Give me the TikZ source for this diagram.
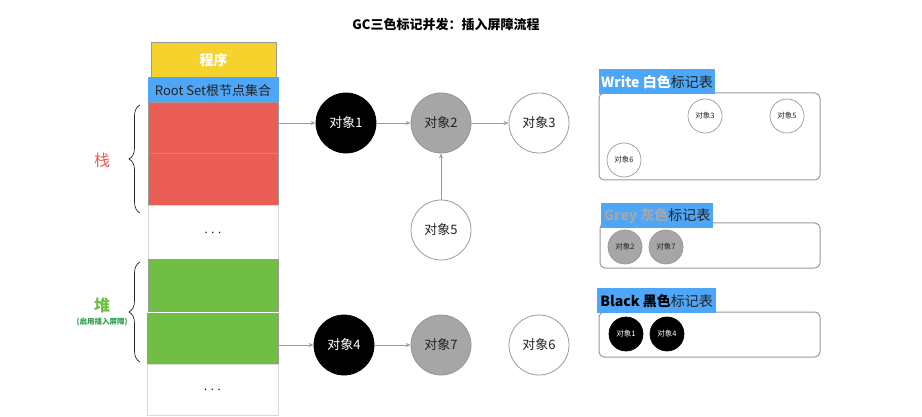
\documentclass[tikz,border=0pt]{standalone}
\usepackage{fontspec}
\setmainfont{Noto Sans CJK SC}
\usetikzlibrary{decorations.pathreplacing,arrows.meta}
\definecolor{cred}{HTML}{EA5D55}
\definecolor{cgreen}{HTML}{70BE44}
\definecolor{cyellow}{HTML}{F5D22C}
\definecolor{cblue}{HTML}{4DA6F8}
\definecolor{cgrey}{HTML}{A6A6A6}
\definecolor{cline}{HTML}{9A9A9A}
\definecolor{cdark}{HTML}{222222}
\definecolor{cgtext}{HTML}{2E9E4A}
\tikzset{
  cell/.style={draw=cline, line width=1pt, inner sep=0pt, outer sep=0pt, minimum width=130pt},
  obj/.style={circle, draw=cline, line width=0.8pt, minimum size=60pt, inner sep=0pt, font=\fontsize{13}{13}\selectfont, text=cdark},
  sobj/.style={circle, draw=cline, line width=0.7pt, minimum size=34pt, inner sep=0pt, font=\fontsize{7.5}{7.5}\selectfont, text=cdark},
  blk/.style={fill=black, draw=black, text=white},
  gry/.style={fill=cgrey, draw=cgrey!90!black},
  tbl/.style={draw=cline, line width=1pt, rounded corners=5pt},
  tlabel/.style={fill=cblue, anchor=north west, inner sep=2pt, minimum height=25pt, font=\fontsize{14}{14}\selectfont},
  conn/.style={draw=cline, line width=0.9pt, -{Stealth[length=5pt,width=4pt]}},
  mybrace/.style={decorate, decoration={brace, amplitude=11pt, aspect=0.5}, line width=0.7pt, draw=black!85},
}
\begin{document}
\begin{tikzpicture}[x=1pt, y=-1pt]
\useasboundingbox (0,0) rectangle (922,417);
\node[font=\bfseries\fontsize{13}{13}\selectfont] (title) at (446,25) {GC三色标记并发：插入屏障流程};

% column
\node[cell, fill=cyellow, minimum width=125pt, minimum height=35pt, text=white, font=\bfseries\fontsize{14}{14}\selectfont] (prog) at (213.5,60.5) {程序};
\node[cell, fill=cblue, draw=cblue, minimum height=25pt, text=cdark, font=\fontsize{13}{13}\selectfont] (root) at (213,90.5) {Root Set根节点集合};
\node[cell, fill=cred, minimum height=51pt] (r1) at (213,128.5) {};
\node[cell, fill=cred, minimum height=52pt] (r2) at (213,180) {};
\node[cell, fill=white, draw=black!15, minimum height=53pt, font=\fontsize{11}{11}\selectfont] (d1) at (213,232.5) {.\,\,.\,\,.};
\node[cell, fill=cgreen, minimum height=52pt] (g1) at (213,285) {};
\node[cell, fill=cgreen, minimum width=131pt, minimum height=51pt] (g2) at (212.5,338.5) {};
\node[cell, fill=white, draw=black!15, minimum width=131pt, minimum height=51pt, font=\fontsize{11}{11}\selectfont] (d2) at (212.5,389.5) {.\,\,.\,\,.};

% braces and labels
\coordinate (sb1) at (140,213);
\coordinate (st1) at (140,105);
\draw[mybrace] (sb1) -- (st1);
\node[text=cred, font=\fontsize{16}{16}\selectfont] (zhan) at (102,160) {栈};
\coordinate (hb1) at (140,362);
\coordinate (ht1) at (140,262);
\draw[mybrace] (hb1) -- (ht1);
\node[text=cgreen, font=\bfseries\fontsize{16}{16}\selectfont] (dui) at (102,305) {堆};
\node[text=cgtext, font=\bfseries\fontsize{7.5}{7.5}\selectfont] (duisub) at (102,322) {(启用插入屏障)};

% objects
\node[obj, blk] (o1) at (346,123) {对象1};
\node[obj, gry] (o2) at (441,123) {对象2};
\node[obj] (o3) at (539,123) {对象3};
\node[obj] (o5) at (441,230) {对象5};
\node[obj, blk] (o4) at (344,345) {对象4};
\node[obj, gry] (o7) at (441,345) {对象7};
\node[obj] (o6) at (539,345) {对象6};

\draw[conn] (r1.east |- o1.west) -- (o1.west);
\draw[conn] (o1) -- (o2);
\draw[conn] (o2) -- (o3);
\draw[conn] (o5) -- (o2);
\draw[conn] (g2.east |- o4.west) -- (o4.west);
\draw[conn] (o4) -- (o7);

% White table
\draw[tbl] (599,93) rectangle (820,180);
\node[tlabel, minimum width=115pt, anchor=north west, align=left] (wl) at (599,69) {\textcolor{white}{\bfseries Write 白色}\textcolor{cdark}{标记表}};
\node[sobj] (w3) at (705,116) {对象3};
\node[sobj] (w5) at (787,116) {对象5};
\node[sobj] (w6) at (624,160) {对象6};

% Grey table
\draw[tbl] (600,223) rectangle (820,268);
\node[tlabel, minimum width=112pt] (gl) at (601,203) {\textcolor{cgrey}{\bfseries Grey 灰色}\textcolor{cdark}{标记表}};
\node[sobj, gry] (g2s) at (625,247) {对象2};
\node[sobj, gry] (g7s) at (666,247) {对象7};

% Black table
\draw[tbl] (599,312) rectangle (820,357);
\node[tlabel, minimum width=119pt] (bl) at (597,288) {\textcolor{black}{\bfseries Black 黑色}\textcolor{cdark}{标记表}};
\node[sobj, blk] (b1s) at (626,334) {对象1};
\node[sobj, blk] (b4s) at (667,334) {对象4};
\end{tikzpicture}
\end{document}
